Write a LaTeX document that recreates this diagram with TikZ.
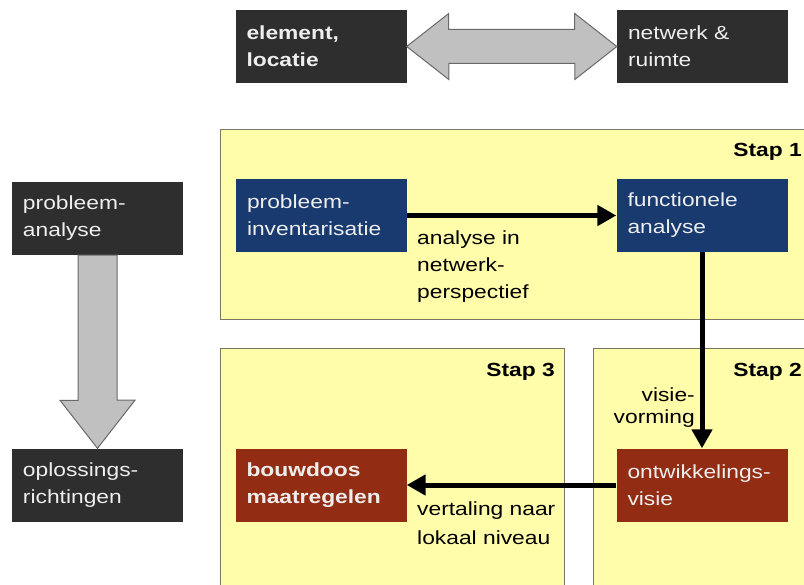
\documentclass[tikz,border=0pt]{standalone}
\usepackage{fontspec}
\setmainfont{Liberation Sans}[FakeStretch=1.2]
\usetikzlibrary{arrows.meta,calc}
\definecolor{darkbox}{RGB}{46,46,46}
\definecolor{bluebox}{RGB}{24,58,110}
\definecolor{redbox}{RGB}{146,44,18}
\definecolor{panelfill}{RGB}{255,253,170}
\definecolor{panelline}{RGB}{120,120,100}
\definecolor{arrowfill}{RGB}{192,192,192}
\definecolor{arrowline}{RGB}{105,105,105}
\definecolor{boxtext}{RGB}{238,238,238}
\begin{document}
\begin{tikzpicture}[x=1bp,y=-1bp,
  txt/.style={font=\fontsize{19bp}{27bp}\selectfont},
  boldtxt/.style={font=\fontsize{19bp}{27bp}\selectfont\bfseries},
  box/.style={txt, fill=#1, text=boxtext, minimum width=171bp, minimum height=73bp,
    text width=149bp, inner xsep=11bp, inner ysep=0pt, align=left},
  panel/.style={fill=panelfill, draw=panelline, line width=1bp},
  steplabel/.style={boldtxt, inner sep=0pt, anchor=base east},
  lbl/.style={txt, inner sep=0pt},
  flow/.style={line width=5bp, -{Triangle[length=19bp,width=20bp]}},
  blockarrow/.style={fill=arrowfill, draw=arrowline, line width=1bp, line join=miter},
]
\useasboundingbox (0,0) rectangle (804,585);
\fill[white] (0,0) rectangle (804,585);
\clip (0,0) rectangle (804,585);

% panels
\draw[panel] (220,130) rectangle (812,319);
\draw[panel] (220,348) rectangle (564,592);
\draw[panel] (593,348) rectangle (812,592);

\node[steplabel] (s1) at (802,157) {Stap 1};
\node[steplabel] (s3) at (555,376) {Stap 3};
\node[steplabel] (s2) at (802,376) {Stap 2};

% boxes
\node[box=darkbox, boldtxt] (elem) at (321,46.5) {element,\\locatie};
\node[box=darkbox] (netw) at (702.5,46.5) {netwerk \&\\ruimte};
\node[box=darkbox] (probA) at (97.5,218.5) {probleem-\\analyse};
\node[box=darkbox] (oploss) at (97.5,485) {oplossings-\\richtingen};
\node[box=bluebox] (probInv) at (321.5,215.5) {probleem-\\inventarisatie};
\node[box=bluebox] (func) at (702,215.5) {functionele\\analyse};
\node[box=redbox, boldtxt] (bouw) at (321,485) {bouwdoos\\maatregelen};
\node[box=redbox] (ontw) at (702,485) {ontwikkelings-\\visie};

% gray block arrows
\draw[blockarrow] (elem.east) -- ++(42,-33) -- ++(0,16) -- ++(126,0) -- ++(0,-16)
  -- (netw.west) -- ++(-42,33) -- ++(0,-16) -- ++(-126,0) -- ++(0,16) -- cycle;
\draw[blockarrow] ([xshift=-19.5bp]probA.south) -- ([xshift=19.5bp]probA.south)
  -- ++(0,145) -- ++(18,0) -- (oploss.north) -- ++(-37.5,-48) -- ++(18,0) -- cycle;

% connectors
\draw[flow] (probInv.east) -- (func.west);
\draw[flow] (func.south) -- (ontw.north);
\draw[flow] (ontw.west) -- (bouw.east);

% labels
\node[lbl, align=left, anchor=north west] (l1) at (417,230.4) {analyse in\\netwerk-\\perspectief};
\node[lbl, align=left, anchor=north west, font=\fontsize{19bp}{29bp}\selectfont] (l2) at (417,501.4) {vertaling naar\\lokaal niveau};
\node[lbl, align=right, anchor=north east, font=\fontsize{19bp}{22bp}\selectfont] (l3) at (695,387.4) {visie-\\vorming};
\end{tikzpicture}
\end{document}
